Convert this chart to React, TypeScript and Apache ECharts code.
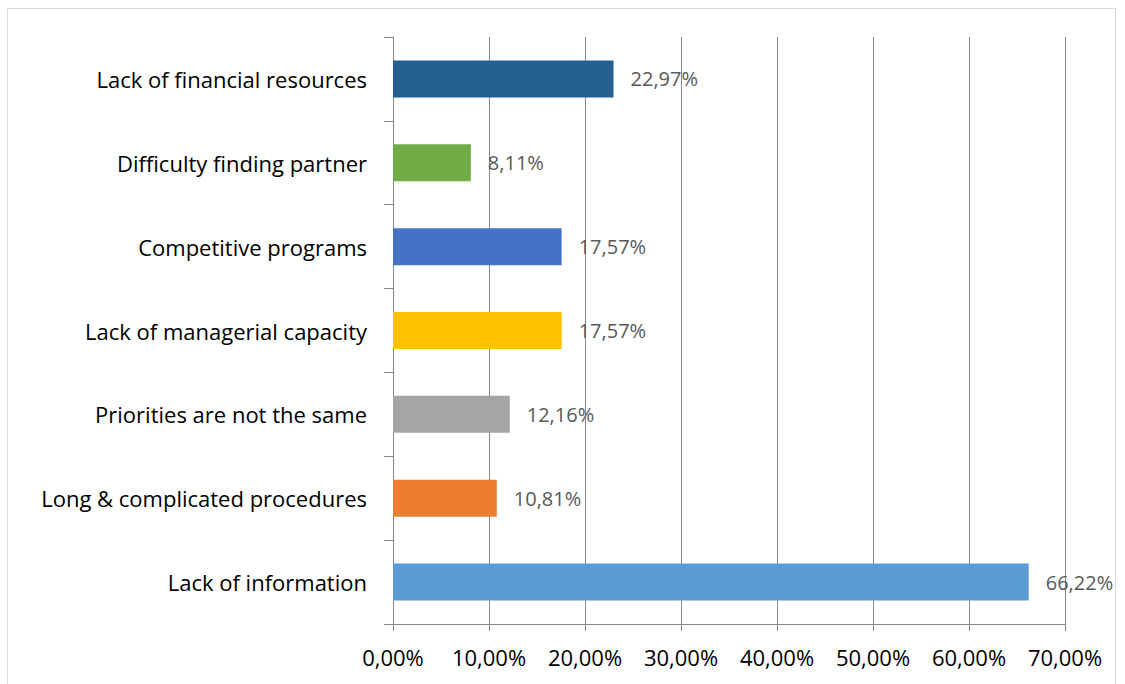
import React, { useEffect, useRef } from "react";
import * as echarts from "echarts";

const categories = [
  "Lack of information",
  "Long & complicated procedures",
  "Priorities are not the same",
  "Lack of managerial capacity",
  "Competitive programs",
  "Difficulty finding partner",
  "Lack of financial resources",
];
const values = [66.22, 10.81, 12.16, 17.57, 17.57, 8.11, 22.97];
const colors = ["#5B9BD5", "#ED7D31", "#A5A5A5", "#FFC000", "#4472C4", "#70AD47", "#255E91"];
const xTicks = [0, 10, 20, 30, 40, 50, 60, 70];

const fmt = (v: number) => v.toFixed(2).replace(".", ",") + "%";

export default function App() {
  const ref = useRef<HTMLDivElement>(null);
  useEffect(() => {
    if (!ref.current) return;
    const chart = echarts.init(ref.current, null, { renderer: "svg" });
    const font = "'Open Sans', 'Noto Sans', sans-serif";
    chart.setOption({
      animation: false,
      grid: { left: 385, top: 28, width: 672, height: 587, containLabel: false },
      xAxis: {
        type: "value",
        min: xTicks[0],
        max: xTicks[xTicks.length - 1],
        interval: 10,
        axisLine: { show: true, lineStyle: { color: "#868686", width: 1 } },
        axisTick: { show: true, length: 7, lineStyle: { color: "#868686" } },
        splitLine: { show: true, lineStyle: { color: "#868686", width: 1 } },
        axisLabel: {
          formatter: (v: number) => fmt(v),
          color: "#000",
          fontSize: 22,
          fontFamily: font,
          margin: 22,
        },
      },
      yAxis: {
        type: "category",
        data: categories,
        axisLine: { show: true, lineStyle: { color: "#868686", width: 1 } },
        axisTick: { show: true, length: 9, inside: false, alignWithLabel: false, lineStyle: { color: "#868686" } },
        splitLine: { show: false },
        axisLabel: {
          color: "#000",
          fontSize: 22,
          fontFamily: font,
          margin: 26,
        },
      },
      series: [
        {
          type: "bar",
          barWidth: 37,
          data: values.map((v, i) => ({ value: v, itemStyle: { color: colors[i] } })),
          label: {
            show: true,
            position: "right",
            distance: 17,
            formatter: (p: any) => fmt(p.value),
            color: "#595959",
            fontSize: 20,
            fontFamily: font,
          },
        },
      ],
    });
    return () => chart.dispose();
  }, []);
  return (
    <div
      style={{
        position: "absolute",
        left: 7,
        top: 8,
        width: 1109,
        height: 700,
        border: "1px solid #d9d9d9",
        boxSizing: "border-box",
      }}
    >
      <div ref={ref} style={{ width: 1107, height: 698 }} />
    </div>
  );
}
